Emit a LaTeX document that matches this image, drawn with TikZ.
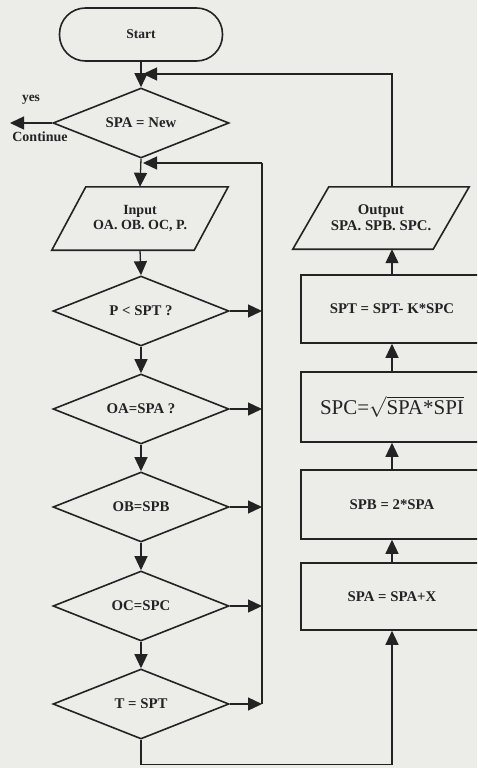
\documentclass[tikz,border=0pt]{standalone}
\usepackage{fontspec}
\setmainfont{Liberation Serif}
\usetikzlibrary{shapes.geometric,arrows.meta}
\definecolor{paper}{RGB}{236,236,233}
\definecolor{ink}{RGB}{35,35,35}
\tikzset{
  x=1pt,y=1pt,
  shapeline/.style={draw=ink,line width=1.6pt},
  lbl/.style={text=ink,font=\fontsize{14.8}{16}\selectfont\bfseries,align=center},
  dec/.style={shapeline,lbl,diamond,shape aspect=2.5,inner sep=0pt,minimum width=176pt,minimum height=70pt},
  procbox/.style={shapeline,lbl,rectangle,inner sep=0pt,minimum width=182pt},
  iobox/.style={lbl,rectangle,inner sep=0pt,minimum width=142pt,minimum height=63pt},
  conn/.style={draw=ink,line width=1.3pt},
  arr/.style={conn,-{Triangle[length=14pt,width=13pt]}}
}
\begin{document}
\begin{tikzpicture}
\fill[paper] (0,0) rectangle (477,-768);
\useasboundingbox (0,0) rectangle (477,-768);
\clip (0,0) rectangle (477,-768);

% left column
\node[shapeline,lbl,rectangle,rounded corners=26pt,minimum width=163pt,minimum height=53pt,font=\fontsize{13.5}{15}\selectfont\bfseries] (start) at (141,-34.5) {Start};
\node[dec] (d0) at (141,-123) {SPA = New};
\node[iobox,font=\fontsize{14}{15.5}\selectfont\bfseries] (in) at (140,-218.5) {Input\\OA. OB. OC, P.};
\draw[shapeline] ([xshift=17pt]in.north west) -- ([xshift=17pt]in.north east)
  -- ([xshift=-17pt]in.south east) -- ([xshift=-17pt]in.south west) -- cycle;
\node[dec] (d1) at (141,-311) {P < SPT ?};
\node[dec] (d2) at (141,-409) {OA=SPA ?};
\node[dec] (d3) at (141,-507) {OB=SPB};
\node[dec] (d4) at (141,-606) {OC=SPC};
\node[dec] (d5) at (141,-704) {T = SPT};

% right column
\node[iobox,minimum width=140pt,minimum height=62pt] (out) at (381,-218) {Output\\SPA. SPB. SPC.};
\draw[shapeline] ([xshift=18pt]out.north west) -- ([xshift=18pt]out.north east)
  -- ([xshift=-18pt]out.south east) -- ([xshift=-18pt]out.south west) -- cycle;
\node[procbox,minimum height=68pt] (spt) at (392,-309) {SPT = SPT- K*SPC};
\node[procbox,minimum height=70pt,font=\fontsize{21}{23}\selectfont\mdseries] (spc) at (392,-407) {SPC=$\sqrt{\mbox{SPA*SPI}}$};
\node[procbox,minimum height=69pt] (spb) at (392,-504.5) {SPB = 2*SPA};
\node[procbox,minimum height=67pt] (spa) at (392,-596.5) {SPA = SPA+X};

% coordinates
\coordinate (m0) at (143,-74);
\coordinate (m1) at (143,-163);
\coordinate (rb) at (262,-163);
\coordinate (cont) at (10,-123);

% labels
\node[lbl,font=\fontsize{13.5}{15}\selectfont\bfseries] (yes) at (31,-100) {yes};
\node[lbl,font=\fontsize{14}{15}\selectfont\bfseries] (contl) at (40,-137) {Continue};

% connectors
\draw[arr] (start.south) -- (d0.north);
\draw[arr] (d0.west) -- (cont);
\draw[arr] (d0.south) -- (in.north);
\draw[arr] (in.south) -- (d1.north);
\draw[arr] (d1.south) -- (d2.north);
\draw[arr] (d2.south) -- (d3.north);
\draw[arr] (d3.south) -- (d4.north);
\draw[arr] (d4.south) -- (d5.north);

\draw[conn] (d5.east -| rb) -- (rb);
\draw[arr] (rb) -- (m1);
\foreach \d in {d1,d2,d3,d4,d5} \draw[arr] (\d.east) -- (\d.east -| rb);

\draw[arr] (d5.south) -- ++(0,-25) -| (spa.south);
\draw[arr] (spa.north) -- (spb.south);
\draw[arr] (spb.north) -- (spc.south);
\draw[arr] (spc.north) -- (spt.south);
\draw[arr] (spt.north) -- (spt.north |- out.south);
\draw[arr] (spt.north |- out.north) |- (m0);
\end{tikzpicture}
\end{document}
